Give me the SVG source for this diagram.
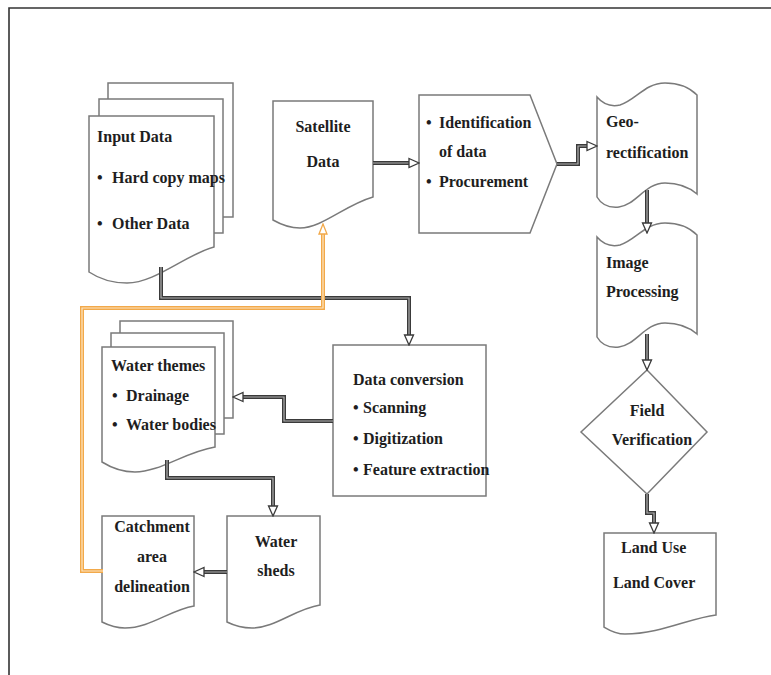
<svg xmlns="http://www.w3.org/2000/svg" width="771" height="675" viewBox="0 0 771 675">
<defs>
<style>
.shape{fill:#fff;stroke:#7a7a7a;stroke-width:1.5}
.t{font-family:"Liberation Serif","Times New Roman",serif;font-weight:bold;font-size:16px;fill:#1e1e1e}
.m{text-anchor:middle}
.co{fill:none;stroke:#3a3a3a;stroke-width:4}
.ci{fill:none;stroke:#b0b0b0;stroke-width:1.2;marker-end:url(#ah)}
.oo{fill:none;stroke:#f2a94a;stroke-width:4}
.oi{fill:none;stroke:#fde6c2;stroke-width:1.2;marker-end:url(#aho)}
.frame{fill:none;stroke:#333;stroke-width:1.6}
</style>
<marker id="ah" markerUnits="userSpaceOnUse" markerWidth="12" markerHeight="12" viewBox="0 0 12 12" refX="11" refY="6" orient="auto">
<path d="M1,1.5 L11,6 L1,10.5 Z" fill="#fff" stroke="#3a3a3a" stroke-width="1.3"/>
</marker>
<marker id="aho" markerUnits="userSpaceOnUse" markerWidth="12" markerHeight="12" viewBox="0 0 12 12" refX="11" refY="6" orient="auto">
<path d="M1,2 L11,6 L1,10 Z" fill="#fff" stroke="#f2a94a" stroke-width="1.3"/>
</marker>
</defs>
<rect width="771" height="675" fill="#fff"/>
<path class="frame" d="M9,675 V8 H771"/>

<g id="input-data">
<rect class="shape" x="108" y="83" width="125" height="134"/>
<rect class="shape" x="99" y="99" width="124" height="134"/>
<path class="shape" d="M89,116 H214 V247 C185,255 155,283 127,283 C110,283 98,278 89,272 Z"/>
<text class="t" x="97" y="142">Input Data</text>
<text class="t" x="97" y="183">•</text>
<text class="t" x="112" y="183">Hard copy maps</text>
<text class="t" x="97" y="229">•</text>
<text class="t" x="112" y="229">Other Data</text>
</g>

<g id="satellite-data">
<path class="shape" d="M273,101 H373 V197 C345,205 322,228 300,228 C288,228 280,224 273,220 Z"/>
<text class="t m" x="323" y="132">Satellite</text>
<text class="t m" x="323" y="167">Data</text>
</g>

<g id="identification">
<path class="shape" d="M419,95 H530 L557,164 L530,233 H419 Z"/>
<text class="t" x="426" y="128">•</text>
<text class="t" x="439" y="128">Identification</text>
<text class="t" x="439" y="157">of data</text>
<text class="t" x="426" y="187">•</text>
<text class="t" x="439" y="187">Procurement</text>
</g>

<g id="geo-rectification">
<path class="shape" d="M597,97 C603,104 611,107 620,105 C636,100 645,83 665,83 C680,83 690,88 697,95 V194 C690,188 680,183 665,183 C645,183 636,205 619,207 C609,208 601,204 597,197 Z"/>
<text class="t" x="606" y="127">Geo-</text>
<text class="t" x="606" y="158">rectification</text>
</g>

<g id="image-processing">
<path class="shape" d="M597,237 C603,244 611,247 620,245 C636,240 645,223 665,223 C680,223 690,228 697,235 V334 C690,328 680,323 665,323 C645,323 636,345 619,347 C609,348 601,344 597,337 Z"/>
<text class="t" x="606" y="268">Image</text>
<text class="t" x="606" y="297">Processing</text>
</g>

<g id="field-verification">
<path class="shape" d="M647,370 L707,432 L647,494 L581,432 Z"/>
<text class="t m" x="647" y="416">Field</text>
<text class="t m" x="652" y="445">Verification</text>
</g>

<g id="land-use">
<path class="shape" d="M604,533 H716 V615 C690,618 660,634 625,634 C615,634 609,630 604,627 Z"/>
<text class="t" x="621" y="553">Land Use</text>
<text class="t" x="613" y="588">Land Cover</text>
</g>

<g id="data-conversion">
<rect class="shape" x="333" y="345" width="153" height="151"/>
<text class="t" x="353" y="385">Data conversion</text>
<text class="t" x="353" y="413">•</text>
<text class="t" x="363" y="413">Scanning</text>
<text class="t" x="353" y="444">•</text>
<text class="t" x="363" y="444">Digitization</text>
<text class="t" x="353" y="475">•</text>
<text class="t" x="363" y="475">Feature extraction</text>
</g>

<g id="water-themes">
<rect class="shape" x="120" y="321" width="113" height="97"/>
<rect class="shape" x="111" y="333" width="113" height="101"/>
<path class="shape" d="M102,347 H215 V447 C185,452 160,472 135,472 C120,472 110,467 102,462 Z"/>
<text class="t" x="111" y="371">Water themes</text>
<text class="t" x="112" y="401">•</text>
<text class="t" x="126" y="401">Drainage</text>
<text class="t" x="112" y="430">•</text>
<text class="t" x="126" y="430">Water bodies</text>
</g>

<g id="catchment">
<path class="shape" d="M102,516 H194 V606 C170,610 150,628 125,628 C115,628 108,625 102,622 Z"/>
<text class="t m" x="152" y="532">Catchment</text>
<text class="t m" x="152" y="562">area</text>
<text class="t m" x="152" y="592">delineation</text>
</g>

<g id="water-sheds">
<path class="shape" d="M227,516 H320 V605 C295,609 275,628 252,628 C240,628 233,625 227,622 Z"/>
<text class="t m" x="276" y="547">Water</text>
<text class="t m" x="276" y="576">sheds</text>
</g>

<g id="connectors">
<path class="co" d="M373,163 H409"/><path class="ci" d="M373,163 H419"/>
<path class="co" d="M557,164 H578 V146 H588"/><path class="ci" d="M557,164 H578 V146 H597"/>
<path class="co" d="M647,190 V224"/><path class="ci" d="M647,190 V233"/>
<path class="co" d="M647,334 V361"/><path class="ci" d="M647,334 V370"/>
<path class="co" d="M647,494 V513 H654 V524"/><path class="ci" d="M647,494 V513 H654 V533"/>
<path class="co" d="M161,267 V298 H409 V336"/><path class="ci" d="M161,267 V298 H409 V345"/>
<path class="co" d="M333,421 H284 V397 H242"/><path class="ci" d="M333,421 H284 V397 H233"/>
<path class="co" d="M167,460 V478 H273 V507"/><path class="ci" d="M167,460 V478 H273 V516"/>
<path class="co" d="M227,572 H203"/><path class="ci" d="M227,572 H194"/>
<path class="oo" d="M103,571 H82 V308 H323 V233"/><path class="oi" d="M103,571 H82 V308 H323 V224"/>
</g>
</svg>
